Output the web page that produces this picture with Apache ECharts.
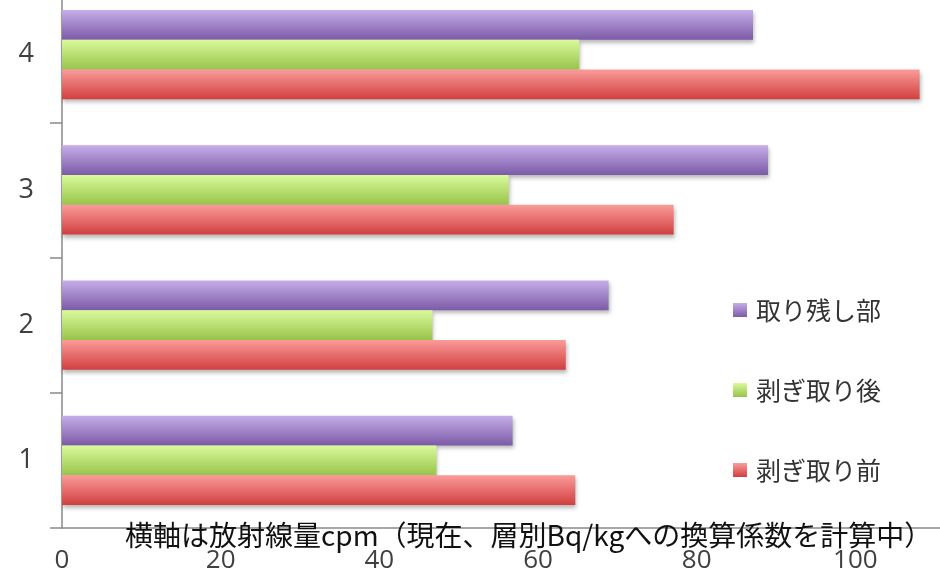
<!DOCTYPE html>
<html>
<head>
<meta charset="utf-8">
<script src="https://cdn.jsdelivr.net/npm/echarts@6/dist/echarts.min.js"></script>
<style>
  html, body { margin: 0; padding: 0; background: #ffffff; overflow: hidden; width: 940px; height: 579px; }
  /* the plot runs past the right and top edges of the page */
  #chart { position: absolute; left: 0; top: -13px; width: 1014px; height: 592px; }
</style>
</head>
<body>
<div id="chart"></div>
<script>
// Sample positions (bottom to top on the vertical axis)
const categories = ['1', '2', '3', '4'];

// Radiation readings in cpm for each layer state
const seriesNames = ['取り残し部', '剥ぎ取り後', '剥ぎ取り前'];
const remaining   = [56.8, 68.9, 89.0, 87.1];    // 取り残し部
const afterStrip  = [47.2, 46.7, 56.3, 65.2];    // 剥ぎ取り後
const beforeStrip = [64.7, 63.5, 77.1, 108.1];   // 剥ぎ取り前

// Legend order shown top to bottom
const legendOrder = ['取り残し部', '剥ぎ取り後', '剥ぎ取り前'];

// Value-axis settings
const xMin = 0, xMax = 120, xStep = 20;

const axisTitle = '横軸は放射線量cpm（現在、層別Bq/kgへの換算係数を計算中）';

function grad(top, bottom) {
  return new echarts.graphic.LinearGradient(0, 0, 0, 1, [
    { offset: 0, color: top },
    { offset: 1, color: bottom }
  ]);
}

const palette = [
  grad('#c6aee8', '#7c5aa7'),  // purple
  grad('#d9fa9c', '#98c44a'),  // green
  grad('#fa9c9a', '#d13f3f')   // red
];

const dataSets = [remaining, afterStrip, beforeStrip];

const chart = echarts.init(document.getElementById('chart'), null, { renderer: 'canvas' });

chart.setOption({
  animation: false,
  backgroundColor: '#ffffff',
  grid: { left: 62, right: 0, top: 0, bottom: 51, containLabel: false, outerBoundsMode: 'none' },
  legend: {
    data: legendOrder,
    orient: 'vertical',
    left: 728,
    top: 305,
    icon: 'rect',
    itemWidth: 14,
    itemHeight: 14,
    itemGap: 54,
    textStyle: {
      fontFamily: '"Noto Sans CJK JP", sans-serif',
      fontSize: 25,
      lineHeight: 26,
      color: '#333333',
      padding: [0, 0, 0, 4]
    }
  },
  xAxis: {
    type: 'value',
    min: xMin,
    max: xMax,
    interval: xStep,
    splitLine: { show: false },
    axisLine: { show: true, lineStyle: { color: '#8a8a8a', width: 1.5 } },
    axisTick: { show: false },
    axisLabel: {
      margin: 20,
      fontFamily: '"Open Sans", sans-serif',
      fontSize: 26,
      color: '#404040'
    }
  },
  yAxis: {
    type: 'category',
    data: categories,
    axisLine: { show: true, lineStyle: { color: '#8a8a8a', width: 1.5 } },
    axisTick: { show: true, inside: false, length: 12, lineStyle: { color: '#8a8a8a', width: 1.5 } },
    axisLabel: {
      margin: 28,
      fontFamily: '"Open Sans", sans-serif',
      fontSize: 27,
      color: '#404040'
    },
    splitLine: { show: false }
  },
  series: seriesNames.map((name, i) => ({
    name: name,
    type: 'bar',
    data: dataSets[i],
    barGap: '0%',
    barCategoryGap: '34%',
    itemStyle: {
      color: palette[i],
      shadowColor: 'rgba(0,0,0,0.28)',
      shadowBlur: 4,
      shadowOffsetX: 1,
      shadowOffsetY: 3
    }
  })),
  graphic: [{
    type: 'text',
    left: 125,
    top: 534,
    z: 100,
    style: {
      text: axisTitle,
      fontFamily: '"Noto Sans CJK JP", sans-serif',
      fontSize: 28,
      fill: '#111111'
    }
  }]
});
</script>
</body>
</html>
